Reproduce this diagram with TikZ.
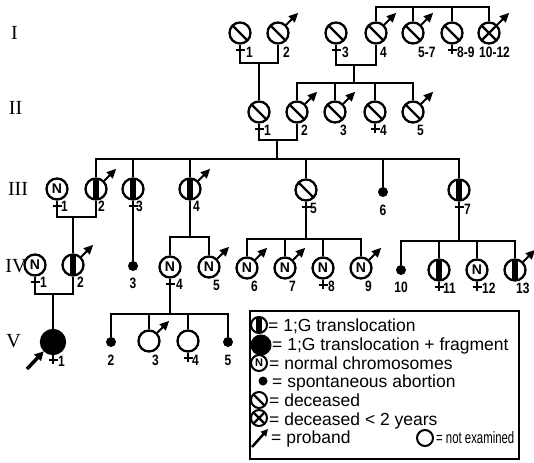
\documentclass[tikz,border=0pt]{standalone}
\usepackage{fontspec}
\setmainfont{Liberation Sans}
\newfontfamily\genfont{Liberation Serif}
\usetikzlibrary{arrows.meta,calc}
\tikzset{
  ln/.style={line width=2pt},
  pers/.style={circle,draw,line width=2.3pt,minimum size=21pt,inner sep=0pt,
    font=\fontsize{14}{14}\selectfont\bfseries},
  lpers/.style={circle,draw,line width=2pt,minimum size=16pt,inner sep=0pt,
    font=\fontsize{11}{11}\selectfont\bfseries},
  dec/.style={path picture={\draw[line width=2.3pt]
    (path picture bounding box.north west) -- (path picture bounding box.south east);}},
  dectwo/.style={path picture={\draw[line width=2.3pt]
    (path picture bounding box.north west) -- (path picture bounding box.south east)
    (path picture bounding box.north east) -- (path picture bounding box.south west);}},
  trl/.style={path picture={\fill ([xshift=-3pt]path picture bounding box.north)
    rectangle ([xshift=3pt]path picture bounding box.south);}},
  full/.style={fill=black},
  dot/.style={circle,fill=black,inner sep=0pt,minimum size=10pt},
  labl/.style={font=\fontsize{15}{15}\selectfont\bfseries,inner sep=0pt,xscale=0.8,transform shape},
  genl/.style={font=\genfont\fontsize{20}{20}\selectfont,inner sep=0pt},
  legt/.style={font=\fontsize{17.5}{18}\selectfont,inner sep=0pt,anchor=base west},
}
\newcommand\who[5]{\node[pers,#4] (#1) at (#2,#3) {#5};}
\newcommand\fcross[1]{\draw[ln] (#1.south) -- ++(0,9); \draw[ln] ($(#1.south)+(-4.5,5)$) -- ++(9,0);}
\newcommand\marr[1]{\draw[ln,-{Triangle[length=9.5pt,width=8.5pt]}] (#1.45) -- ++(12,-12);}
\newcommand\lab[4]{\path ($(#1)+(#2,#3)$) node[labl,anchor=west] (#1l) {#4};}
\newcommand\labc[4]{\path ($(#1)+(#2,#3)$) node[labl] (#1l) {#4};}
\begin{document}
\begin{tikzpicture}[x=1pt,y=-1pt]
\useasboundingbox (0,0) rectangle (534,462);
% generation labels
\node[genl] (gI) at (14.5,33) {I};
\node[genl] (gII) at (15.5,108) {II};
\node[genl] (gIII) at (18,189) {III};
\node[genl] (gIV) at (16,266) {IV};
\node[genl] (gV) at (13.5,341) {V};
% ---------- generation I
\who{i1}{240}{33}{dec}{}\fcross{i1}\lab{i1}{6}{19}{1}
\who{i2}{278}{33}{dec}{}\marr{i2}\lab{i2}{5}{19}{2}
\who{i3}{336}{33}{dec}{}\fcross{i3}\lab{i3}{6}{19}{3}
\who{i4}{376}{33}{dec}{}\marr{i4}\lab{i4}{4}{19}{4}
\who{i57}{413}{33}{dec}{}\marr{i57}\lab{i57}{5}{19}{5-7}
\who{i89}{452}{33}{dec}{}\fcross{i89}\lab{i89}{5}{19}{8-9}
\who{i1012}{489}{33}{dectwo}{}\marr{i1012}\lab{i1012}{-10}{19}{10-12}
\coordinate (sI) at (0,7);
\draw[ln] (i4.north) |- (sI -| i1012.north) -- (i1012.north);
\draw[ln] (i57.north) -- (i57.north |- sI);
\draw[ln] (i89.north) -- (i89.north |- sI);
\coordinate (mIa) at (0,63);
\draw[ln] (i1.south) |- (i2.south |- mIa) -- (i2.south);
\coordinate (mIb) at (0,65);
\draw[ln] (i3.south) |- (i4.south |- mIb) -- (i4.south);
% ---------- generation II
\who{ii1}{259}{112}{dec}{}\fcross{ii1}\lab{ii1}{5}{18}{1}
\who{ii2}{297}{112}{dec}{}\marr{ii2}\lab{ii2}{4}{18}{2}
\who{ii3}{335}{112}{dec}{}\marr{ii3}\lab{ii3}{5}{18}{3}
\who{ii4}{375}{112}{dec}{}\fcross{ii4}\lab{ii4}{5}{18}{4}
\who{ii5}{413}{112}{dec}{}\marr{ii5}\lab{ii5}{4}{18}{5}
\coordinate (dIa) at (259,63);
\draw[ln] (dIa) -- (ii1.north);
\coordinate (dIb) at (354,65);
\coordinate (sII) at (0,83);
\draw[ln] (dIb) -- (dIb |- sII);
\draw[ln] (ii2.north) |- (sII -| ii5.north) -- (ii5.north);
\draw[ln] (ii3.north) -- (ii3.north |- sII);
\draw[ln] (ii4.north) -- (ii4.north |- sII);
\coordinate (mII) at (0,140);
\draw[ln] (ii1.south) |- (ii2.south |- mII) -- (ii2.south);
% ---------- generation III
\who{iii1}{57}{189}{}{N}\fcross{iii1}\lab{iii1}{4}{17}{1}
\who{iii2}{96}{189}{trl}{}\marr{iii2}\lab{iii2}{2}{17}{2}
\who{iii3}{133}{189}{trl}{}\fcross{iii3}\lab{iii3}{3}{17}{3}
\who{iii4}{190}{189}{trl}{}\marr{iii4}\lab{iii4}{3}{17}{4}
\who{iii5}{306}{190}{dec}{}\fcross{iii5}\lab{iii5}{4}{18}{5}
\node[dot] (iii6) at (383,192) {};\labc{iii6}{0}{18}{6}
\who{iii7}{459}{190}{trl}{}\fcross{iii7}\lab{iii7}{5}{19}{7}
\coordinate (dII) at (277,140);
\coordinate (sIII) at (0,159);
\draw[ln] (dII) -- (dII |- sIII);
\draw[ln] (iii2.north) |- (sIII -| iii7.north) -- (iii7.north);
\foreach \p in {iii3,iii4,iii5,iii6} \draw[ln] (\p.north) -- (\p.north |- sIII);
\coordinate (mIII) at (0,217);
\draw[ln] (iii1.south) |- (iii2.south |- mIII) -- (iii2.south);
% ---------- generation IV
\who{iv1}{35}{265}{}{N}\fcross{iv1}\lab{iv1}{5}{17}{1}
\who{iv2}{73}{265}{trl}{}\marr{iv2}\lab{iv2}{4}{17}{2}
\node[dot] (iv3) at (133,266) {};\labc{iv3}{0}{17}{3}
\who{iv4}{170}{267}{}{N}\fcross{iv4}\lab{iv4}{6}{17}{4}
\who{iv5}{209}{267}{}{N}\marr{iv5}\lab{iv5}{4}{18}{5}
\who{iv6}{247}{268}{}{N}\marr{iv6}\lab{iv6}{4}{18}{6}
\who{iv7}{285}{268}{}{N}\marr{iv7}\lab{iv7}{4}{18}{7}
\who{iv8}{323}{268}{}{N}\fcross{iv8}\lab{iv8}{5}{18}{8}
\who{iv9}{361}{268}{}{N}\marr{iv9}\lab{iv9}{4}{18}{9}
\node[dot] (iv10) at (401,270) {};\labc{iv10}{0}{17}{10}
\who{iv11}{439}{270}{trl}{}\fcross{iv11}\lab{iv11}{4}{18}{11}
\who{iv12}{477}{270}{}{N}\fcross{iv12}\lab{iv12}{5}{18}{12}
\who{iv13}{515}{270}{trl}{}\marr{iv13}\lab{iv13}{1}{18}{13}
\coordinate (dIII) at (73,217);
\draw[ln] (dIII) -- (iv2.north);
\draw[ln] (iii3.south) -- (iv3.north);
\coordinate (sIVa) at (0,237);
\draw[ln] (iii4.south) -- (iii4.south |- sIVa);
\draw[ln] (iv4.north) |- (sIVa -| iv5.north) -- (iv5.north);
\coordinate (sIVb) at (0,239);
\draw[ln] (iii5.south) -- (iii5.south |- sIVb);
\draw[ln] (iv6.north) |- (sIVb -| iv9.north) -- (iv9.north);
\foreach \p in {iv7,iv8} \draw[ln] (\p.north) -- (\p.north |- sIVb);
\coordinate (sIVc) at (0,241);
\draw[ln] (iii7.south) -- (iii7.south |- sIVc);
\draw[ln] (iv10.north) |- (sIVc -| iv13.north) -- (iv13.north);
\foreach \p in {iv11,iv12} \draw[ln] (\p.north) -- (\p.north |- sIVc);
\coordinate (mIV) at (0,294);
\draw[ln] (iv1.south) |- (iv2.south |- mIV) -- (iv2.south);
% ---------- generation V
\who{v1}{53}{342}{full,minimum size=24pt}{}\fcross{v1}\lab{v1}{5}{19}{1}
\node[dot] (v2) at (111,342) {};\labc{v2}{0}{18}{2}
\who{v3}{149}{341}{}{}\marr{v3}\lab{v3}{3}{19}{3}
\who{v4}{188}{341}{}{}\fcross{v4}\lab{v4}{4}{19}{4}
\node[dot] (v5) at (228,342) {};\labc{v5}{0}{18}{5}
\coordinate (dIV) at (53,294);
\draw[ln] (dIV) -- (v1.north);
\coordinate (sV) at (0,314);
\draw[ln] (iv4.south) -- (iv4.south |- sV);
\draw[ln] (v2.north) |- (sV -| v5.north) -- (v5.north);
\foreach \p in {v3,v4} \draw[ln] (\p.north) -- (\p.north |- sV);
\coordinate (pa) at (27,369);
\draw[line width=3.5pt,-{Triangle[length=9pt,width=9pt]}] (pa) -- (v1.225);
% ---------- legend
\node[draw,line width=1.8pt,minimum width=269pt,minimum height=148pt,inner sep=0pt,anchor=north west] (leg) at (249,310) {};
\node[lpers,trl] (k1) at (259,325) {};
\node[lpers,full,minimum size=19pt] (k2) at (261,345) {};
\node[lpers] (k3) at (259,363) {N};
\node[dot,minimum size=9pt] (k4) at (263,381) {};
\node[lpers,dec] (k5) at (259,400) {};
\node[lpers,dectwo] (k6) at (259,418) {};
\coordinate (k7a) at (252,447);
\coordinate (k7b) at (268,429);
\draw[line width=2.5pt,-{Triangle[length=7pt,width=7pt]}] (k7a) -- (k7b);
\node[lpers] (k8) at (425,438) {};
\node[legt] (t1) at (268,331.5) {= 1;G translocation};
\node[legt] (t2) at (272,350.5) {= 1;G translocation + fragment};
\node[legt] (t3) at (269,369) {= normal chromosomes};
\node[legt] (t4) at (272,387.5) {= spontaneous abortion};
\node[legt] (t5) at (269,406) {= deceased};
\node[legt] (t6) at (269,425) {= deceased < 2 years};
\node[legt] (t7) at (271,443.5) {= proband};
\path (436,443.5) node[legt,font=\fontsize{16.5}{17}\selectfont,xscale=0.69,transform shape] (t8) {= not examined};
\end{tikzpicture}
\end{document}
